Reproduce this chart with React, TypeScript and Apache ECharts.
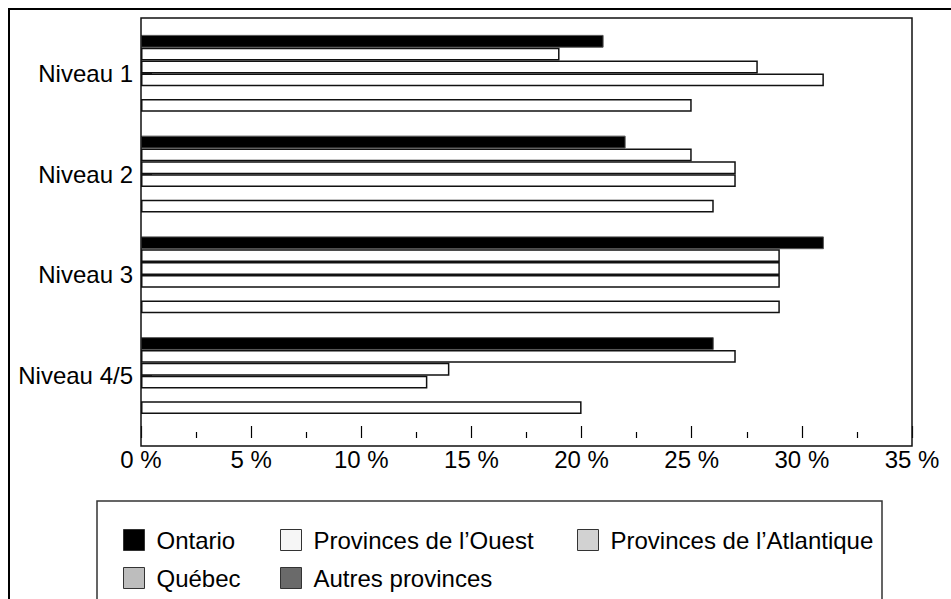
import React, { useEffect, useRef } from "react";
import * as echarts from "echarts";

const categories = ["Niveau 1", "Niveau 2", "Niveau 3", "Niveau 4/5"];
const ontario = [21, 22, 31, 26];
const ouest = [19, 25, 29, 27];
const atlantique = [28, 27, 29, 14];
const quebec = [31, 27, 29, 13];
const vide: (number | null)[] = [null, null, null, null];
const autres = [25, 26, 29, 20];
const xTicks = [0, 5, 10, 15, 20, 25, 30, 35];

const FONT = "'Liberation Sans', Arial, sans-serif";
const FS = 24;

export default function App() {
  const ref = useRef<HTMLDivElement>(null);
  useEffect(() => {
    if (!ref.current) return;
    const chart = echarts.init(ref.current, undefined, { renderer: "svg" });
    const whiteBar = { color: "#ffffff", borderColor: "#111", borderWidth: 1.5 };
    const mk = (name: string, data: (number | null)[], itemStyle: any) => ({
      name,
      type: "bar",
      data,
      barGap: "0%",
      barCategoryGap: "23.6%",
      itemStyle,
      emphasis: { disabled: true },
    });
    const legendCommon = {
      orient: "vertical",
      icon: "rect",
      itemWidth: 21,
      itemHeight: 21,
      itemGap: 14,
      selectedMode: false,
      textStyle: { fontSize: FS, color: "#000", fontFamily: FONT, padding: [0, 0, 0, 7] },
    };
    const iconBorder = { borderColor: "#333", borderWidth: 1 };
    chart.setOption({
      animation: false,
      backgroundColor: "#fff",
      grid: { left: 141, right: 39, top: 23, bottom: 173, containLabel: false },
      xAxis: {
        type: "value",
        min: xTicks[0],
        max: xTicks[xTicks.length - 1],
        interval: 5,
        offset: 12,
        axisLine: { show: false },
        axisTick: { show: true, inside: true, length: 12, lineStyle: { color: "#000", width: 1.2 } },
        minorTick: { show: true, splitNumber: 2, length: 6, lineStyle: { color: "#000", width: 1.2 } },
        splitLine: { show: false },
        axisLabel: {
          formatter: "{value} %",
          fontSize: FS,
          color: "#000",
          fontFamily: FONT,
          margin: 9,
        },
      },
      yAxis: {
        type: "category",
        inverse: true,
        data: categories,
        axisLine: { show: false },
        axisTick: { show: true, inside: true, alignWithLabel: true, length: 11, lineStyle: { color: "#000", width: 1.5 } },
        axisLabel: { fontSize: FS, color: "#000", fontFamily: FONT, margin: 8 },
      },
      legend: [
        {
          ...legendCommon,
          left: 118,
          top: 523,
          data: [
            { name: "Ontario", itemStyle: { color: "#000", ...iconBorder } },
            { name: "Québec", itemStyle: { color: "#bdbdbd", ...iconBorder } },
          ],
        },
        {
          ...legendCommon,
          left: 275,
          top: 523,
          data: [
            { name: "Provinces de l’Ouest", itemStyle: { color: "#f6f6f6", ...iconBorder } },
            { name: "Autres provinces", itemStyle: { color: "#6a6a6a", ...iconBorder } },
          ],
        },
        {
          ...legendCommon,
          left: 572,
          top: 523,
          data: [{ name: "Provinces de l’Atlantique", itemStyle: { color: "#d2d2d2", ...iconBorder } }],
        },
      ],
      graphic: [
        {
          type: "rect",
          shape: { x: 9, y: 9, width: 1000, height: 1000 },
          style: { fill: "none", stroke: "#000", lineWidth: 2 },
          silent: true,
        },
        {
          type: "rect",
          shape: { x: 141, y: 18, width: 771, height: 428 },
          style: { fill: "none", stroke: "#111", lineWidth: 1.5 },
          silent: true,
          z: 10,
        },
        {
          type: "rect",
          shape: { x: 97, y: 501, width: 785, height: 200 },
          style: { fill: "none", stroke: "#333", lineWidth: 1.5 },
          silent: true,
        },
      ],
      series: [
        mk("Ontario", ontario, { color: "#000", borderColor: "#555", borderWidth: 1 }),
        mk("Provinces de l’Ouest", ouest, whiteBar),
        mk("Provinces de l’Atlantique", atlantique, whiteBar),
        mk("Québec", quebec, whiteBar),
        mk("", vide, whiteBar),
        mk("Autres provinces", autres, whiteBar),
      ],
    });
    return () => chart.dispose();
  }, []);
  return (
    <div
      ref={ref}
      style={{ position: "fixed", left: 0, top: 0, width: 951, height: 599, background: "#fff" }}
    />
  );
}
